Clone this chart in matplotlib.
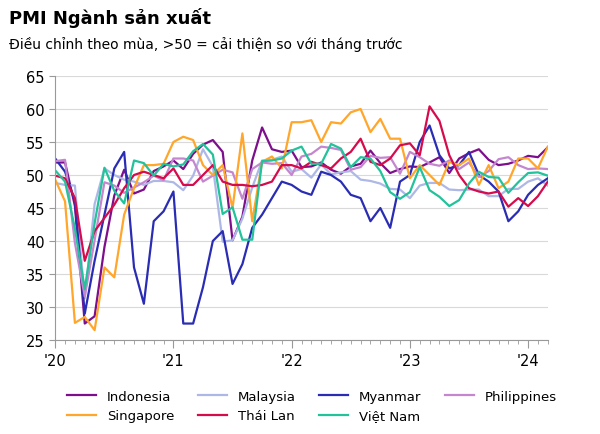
import matplotlib
matplotlib.use("Agg")
import matplotlib.pyplot as plt
import numpy as np
import pandas as pd

dates = pd.date_range("2020-01-01", periods=51, freq="MS")
indonesia = [51.9,51.9,45.3,27.5,28.6,39.1,46.9,50.8,47.2,47.8,50.6,51.3,
             52.2,50.9,53.2,54.6,55.3,53.5,40.1,43.7,52.2,57.2,53.9,53.5,
             53.7,51.2,51.3,51.9,50.8,50.2,51.3,51.7,53.7,51.8,50.3,50.9,
             51.3,51.2,51.9,52.7,50.3,52.5,53.3,53.9,52.3,51.5,51.7,52.2,
             52.9,52.7,54.2]
malaysia = [48.8,48.5,48.4,31.3,45.6,51.0,50.0,49.3,49.0,48.5,49.1,49.1,
            48.9,47.7,49.9,53.9,51.3,39.9,40.1,43.4,48.1,52.2,52.3,52.8,
            50.5,50.9,49.6,51.6,50.1,50.4,50.6,49.3,49.1,48.7,47.9,47.8,
            46.5,48.4,48.8,48.8,47.8,47.7,47.8,47.8,46.8,46.8,47.9,47.9,
            49.0,49.5,48.4]
myanmar = [52.5,50.5,46.0,29.0,37.0,44.0,51.0,53.5,36.0,30.5,43.0,44.5,
           47.5,27.5,27.5,33.0,40.0,41.5,33.5,36.5,42.0,44.0,46.5,49.0,
           48.5,47.5,47.0,50.5,50.0,49.0,47.0,46.5,43.0,45.0,42.0,49.0,
           50.0,55.0,57.5,53.0,51.0,51.5,53.5,50.0,49.0,47.5,43.0,44.5,
           47.0,48.5,49.5]
philippines = [52.1,52.3,39.7,31.6,40.1,48.9,48.4,47.3,48.1,48.9,49.9,49.2,
               52.5,52.5,52.2,49.0,49.9,50.8,50.4,46.4,50.9,51.9,51.7,51.8,
               50.0,52.8,53.2,54.3,54.1,53.8,50.8,51.2,52.9,52.6,52.7,50.2,
               53.5,52.7,51.7,51.4,52.2,50.9,51.9,49.7,50.6,52.4,52.7,51.5,
               50.9,51.0,50.9]
singapore = [49.3,46.0,27.6,28.5,26.5,36.0,34.5,44.0,48.0,51.5,51.5,51.7,
             55.0,55.8,55.3,51.5,50.0,51.5,45.0,56.3,43.0,52.0,52.8,51.0,
             58.0,58.0,58.3,55.0,58.0,57.8,59.5,60.0,56.5,58.5,55.5,55.5,
             49.5,51.5,50.0,48.5,52.0,51.5,52.5,48.5,51.5,48.0,49.0,52.5,
             52.5,51.0,54.3]
thailand = [49.9,49.5,46.5,37.0,41.5,43.5,45.5,48.0,50.0,50.5,50.0,49.5,
            51.0,48.5,48.5,50.0,51.5,49.0,48.5,48.5,48.3,48.5,49.0,51.5,
            51.5,51.0,52.0,51.5,51.0,52.5,53.5,55.5,52.0,51.5,52.5,54.5,
            54.8,53.0,60.4,58.2,53.0,50.0,48.0,47.5,47.2,47.5,45.2,46.5,
            45.3,46.8,49.0]
vietnam = [50.7,49.0,41.9,32.7,42.7,51.1,47.6,45.7,52.2,51.8,49.9,51.7,
           51.3,51.6,53.6,54.7,53.1,44.1,45.1,40.2,40.2,52.1,52.2,52.5,
           53.7,54.3,51.7,51.7,54.7,54.0,51.2,52.7,52.5,50.6,47.4,46.4,
           47.4,51.2,47.7,46.7,45.3,46.2,48.7,50.5,49.7,49.6,47.3,48.9,
           50.3,50.4,49.9]

series = [("Indonesia", indonesia, "#7E0F8C"),
          ("Malaysia", malaysia, "#AEB8E6"),
          ("Myanmar", myanmar, "#2A2DB3"),
          ("Philippines", philippines, "#C487CF"),
          ("Singapore", singapore, "#FFA62B"),
          ("Thái Lan", thailand, "#D50B4C"),
          ("Việt Nam", vietnam, "#22C29A")]

fig = plt.figure(figsize=(6, 4.35), dpi=100)
ax = fig.add_axes([0.092, 0.216, 0.821, 0.607])
x = np.arange(len(dates))
lines = {}
for name, vals, c in series:
    lines[name], = ax.plot(x, vals, color=c, lw=1.6, label=name)

ax.set_ylim(25, 65)
ax.set_yticks(range(25, 70, 5))
ax.set_xlim(0, 50)
ax.set_xticks([0, 12, 24, 36, 48])
ax.set_xticklabels(["'20", "'21", "'22", "'23", "'24"])
ax.set_xticks(x, minor=True)
ax.grid(axis="y", color="#d9d9d9", lw=0.8)
ax.set_axisbelow(True)
for s in ["top", "right"]:
    ax.spines[s].set_visible(False)
for s in ["left", "bottom"]:
    ax.spines[s].set_color("#999999")
ax.tick_params(axis="y", length=4, color="#999999", labelsize=10.5)
ax.tick_params(axis="x", which="major", length=6, color="#999999", labelsize=10.5)
ax.tick_params(axis="x", which="minor", length=3, color="#999999")

fig.text(0.015, 0.945, "PMI Ngành sản xuất", fontsize=13, fontweight="bold")
fig.text(0.015, 0.888, "Điều chỉnh theo mùa, >50 = cải thiện so với tháng trước", fontsize=10)

order = ["Indonesia", "Singapore", "Malaysia", "Thái Lan", "Myanmar", "Việt Nam", "Philippines"]
fig.legend([lines[n] for n in order], order, loc="lower center", bbox_to_anchor=(0.52, 0.0),
           ncol=4, frameon=False, fontsize=9.5, handlelength=2.2, columnspacing=1.8)
fig.savefig("out.png", dpi=100)
